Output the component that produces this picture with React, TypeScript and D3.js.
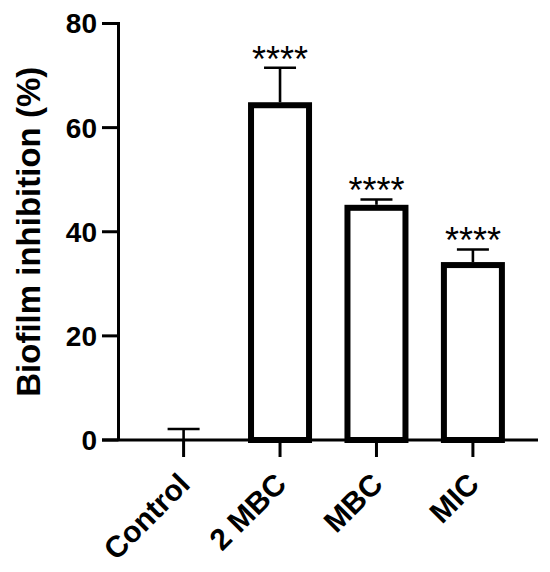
import React from "react";
import * as d3 from "d3";

const categories = ["Control", "2 MBC", "MBC", "MIC"];
const means = [0, 64.3, 44.6, 33.6];
const errors = [2.1, 7.2, 1.6, 3.0];
const stars = ["", "****", "****", "****"];
const yTicks = [0, 20, 40, 60, 80];
const yLabel = "Biofilm inhibition (%)";

const W = 550;
const H = 572;
const FONT = "'Liberation Sans', Arial, Helvetica, sans-serif";

export default function App() {
  const y = d3.scaleLinear().domain([0, 80]).range([440, 23.5]);
  const x = d3.scalePoint<string>().domain(categories).range([118.5, 538]).padding(0.675);
  const barW = 58;
  const capW = 32;
  const axisX = 118.5;
  const axisY = y(0);

  return (
    <svg
      width={W}
      height={H}
      style={{ position: "absolute", left: 0, top: 0, background: "#fff" }}
      fontFamily={FONT}
    >
      <rect x={0} y={0} width={W} height={H} fill="#fff" />
      {categories.map((c, i) => {
        const cx = x(c)!;
        const top = y(means[i]);
        if (means[i] <= 0) return null;
        return (
          <rect
            key={"b" + c}
            x={cx - barW / 2}
            y={top}
            width={barW}
            height={axisY - top}
            fill="#fff"
            stroke="#000"
            strokeWidth={6}
          />
        );
      })}
      {categories.map((c, i) => {
        const cx = x(c)!;
        const top = y(means[i]);
        const cap = y(means[i] + errors[i]);
        return (
          <g key={"e" + c} stroke="#000" strokeWidth={2.6}>
            <line x1={cx} x2={cx} y1={top - (means[i] > 0 ? 3 : 0)} y2={cap} />
            <line x1={cx - capW / 2} x2={cx + capW / 2} y1={cap} y2={cap} />
          </g>
        );
      })}
      {categories.map((c, i) => {
        if (!stars[i]) return null;
        const cx = x(c)!;
        const cap = y(means[i] + errors[i]);
        return (
          <text
            key={"s" + c}
            x={cx}
            y={cap + 4}
            textAnchor="middle"
            fontSize={36}
            fill="#000"
          >
            {stars[i]}
          </text>
        );
      })}
      <line x1={axisX} x2={axisX} y1={y(80) - 1.5} y2={axisY} stroke="#000" strokeWidth={3} />
      {yTicks.map((t) => (
        <g key={"yt" + t}>
          <line x1={102} x2={axisX} y1={y(t)} y2={y(t)} stroke="#000" strokeWidth={3} />
          <text
            x={97}
            y={y(t)}
            dy="0.355em"
            textAnchor="end"
            fontSize={28}
            fontWeight="bold"
            fill="#000"
          >
            {t}
          </text>
        </g>
      ))}
      <line x1={102} x2={538} y1={axisY} y2={axisY} stroke="#000" strokeWidth={3} />
      {categories.map((c) => {
        const cx = x(c)!;
        return (
          <g key={"xt" + c}>
            <line x1={cx} x2={cx} y1={axisY} y2={axisY + 17} stroke="#000" strokeWidth={3} />
            <text
              transform={`translate(${cx + 8},${axisY + 46}) rotate(-45)`}
              textAnchor="end"
              fontSize={30}
              fontWeight="bold"
              fill="#000"
            >
              {c}
            </text>
          </g>
        );
      })}
      <text
        transform={`translate(40,${(y(0) + y(80)) / 2}) rotate(-90)`}
        textAnchor="middle"
        fontSize={33}
        fontWeight="bold"
        fill="#000"
      >
        {yLabel}
      </text>
    </svg>
  );
}
